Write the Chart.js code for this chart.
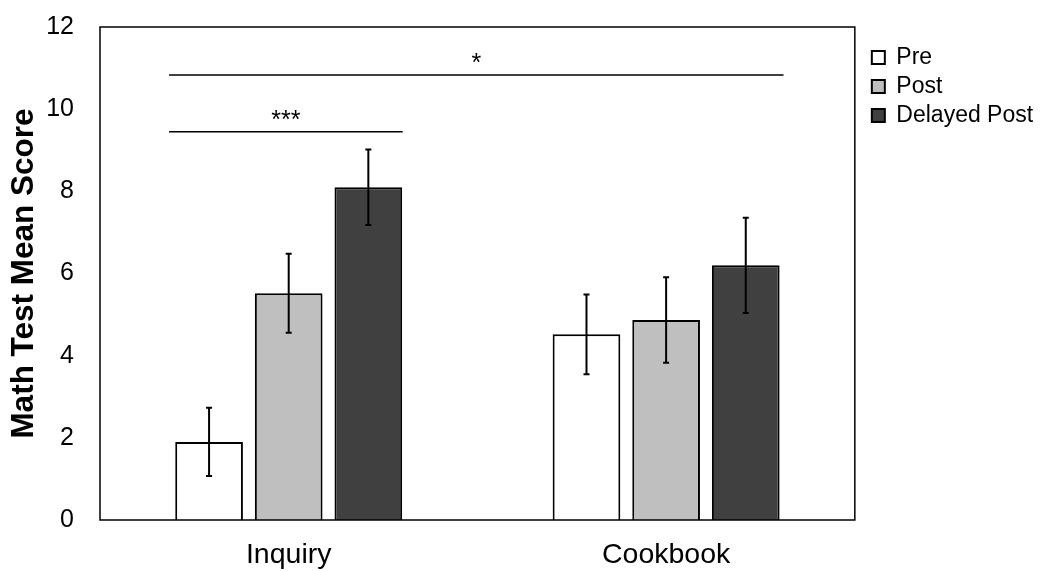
<!DOCTYPE html>
<html>
<head>
<meta charset="utf-8">
<script src="https://cdn.jsdelivr.net/npm/chart.js@4/dist/chart.umd.min.js"></script>
<style>
  html, body { margin: 0; padding: 0; background: #fff; }
  #wrap { width: 1040px; height: 571px; }
</style>
</head>
<body>
<div id="wrap"><canvas id="c" width="1040" height="571"></canvas></div>
<script>
// ---- data ----
const categories = ['Inquiry', 'Cookbook'];
const seriesNames = ['Pre', 'Post', 'Delayed Post'];
const preMeans = [1.90, 4.52];
const postMeans = [5.52, 4.87];
const delayedMeans = [8.10, 6.20];
const preErr = [0.83, 0.97];
const postErr = [0.96, 1.04];
const delayedErr = [0.92, 1.16];
const yTicks = [0, 2, 4, 6, 8, 10, 12];
// significance brackets: label, y value, x start, x end (category-axis units)
const sigLabels = ['*', '***'];
const sigY = [10.83, 9.45];
const sigFrom = [-0.317, -0.317];
const sigTo = [1.311, 0.302];

const FONT = "'Liberation Sans', Arial, sans-serif";
const colors = ['#FFFFFF', '#BFBFBF', '#404040'];
const errs = [preErr, postErr, delayedErr];

const extras = {
  id: 'extras',
  afterDatasetsDraw(chart) {
    const ctx = chart.ctx;
    const ca = chart.chartArea;
    const y = chart.scales.y, x = chart.scales.x;
    ctx.save();
    // frame
    ctx.strokeStyle = '#000';
    ctx.lineWidth = 1.5;
    ctx.strokeRect(ca.left, ca.top, ca.right - ca.left, ca.bottom - ca.top);
    // error bars
    ctx.lineWidth = 2;
    chart.data.datasets.forEach((ds, di) => {
      const meta = chart.getDatasetMeta(di);
      meta.data.forEach((bar, i) => {
        const v = ds.data[i], e = errs[di][i];
        const yt = y.getPixelForValue(v + e), yb = y.getPixelForValue(v - e);
        const cx = bar.x;
        ctx.beginPath();
        ctx.moveTo(cx, yt); ctx.lineTo(cx, yb);
        ctx.moveTo(cx - 3, yt); ctx.lineTo(cx + 3, yt);
        ctx.moveTo(cx - 3, yb); ctx.lineTo(cx + 3, yb);
        ctx.stroke();
      });
    });
    // significance lines
    ctx.lineWidth = 1.5;
    ctx.fillStyle = '#000';
    ctx.font = '25px ' + FONT;
    ctx.textAlign = 'center';
    ctx.textBaseline = 'alphabetic';
    sigLabels.forEach((lab, k) => {
      const py = y.getPixelForValue(sigY[k]);
      const x0 = x.getPixelForValue(sigFrom[k]);
      const x1 = x.getPixelForValue(sigTo[k]);
      ctx.beginPath();
      ctx.moveTo(x0, py); ctx.lineTo(x1, py);
      ctx.stroke();
      ctx.fillText(lab, (x0 + x1) / 2, py - 4);
    });
    ctx.restore();
  }
};

new Chart(document.getElementById('c'), {
  type: 'bar',
  data: {
    labels: categories,
    datasets: [
      { label: seriesNames[0], data: preMeans, backgroundColor: colors[0] },
      { label: seriesNames[1], data: postMeans, backgroundColor: colors[1] },
      { label: seriesNames[2], data: delayedMeans, backgroundColor: colors[2] }
    ].map(d => Object.assign(d, {
      borderColor: '#000', borderWidth: 2,
      categoryPercentage: 0.633, barPercentage: 0.85
    }))
  },
  options: {
    responsive: false,
    animation: false,
    devicePixelRatio: 1,
    layout: { padding: { left: 0, top: 27, right: 1, bottom: 0 } },
    plugins: {
      legend: {
        position: 'right',
        align: 'start',
        title: { display: true, text: ' ', font: { size: 10 }, padding: { top: 0, bottom: 1 } },
        labels: {
          color: '#000',
          font: { family: FONT, size: 23 },
          boxWidth: 13, boxHeight: 13, padding: 6
        }
      },
      tooltip: { enabled: false }
    },
    scales: {
      x: {
        grid: { display: false, drawTicks: false },
        border: { display: false },
        ticks: { color: '#000', font: { family: FONT, size: 28.5 }, padding: 18 },
        afterFit: s => { s.height = 51; }
      },
      y: {
        min: 0, max: 12,
        afterBuildTicks: s => { s.ticks = yTicks.map(v => ({ value: v })); },
        grid: { display: false, drawTicks: false },
        border: { display: false },
        ticks: { color: '#000', font: { family: FONT, size: 25 }, padding: 26 },
        title: {
          display: true, text: 'Math Test Mean Score', color: '#000',
          font: { family: FONT, size: 31.5, weight: 'bold' },
          padding: { top: 5, bottom: 5 }
        },
        afterFit: s => { s.width = 100; s.paddingTop = 0; s.paddingBottom = 0; }
      },
      y2: {
        position: 'right',
        display: true,
        grid: { display: false, drawTicks: false },
        border: { display: false },
        ticks: { display: false },
        afterFit: s => { s.width = 11; s.paddingTop = 0; s.paddingBottom = 0; }
      }
    }
  },
  plugins: [extras]
});
</script>
</body>
</html>
